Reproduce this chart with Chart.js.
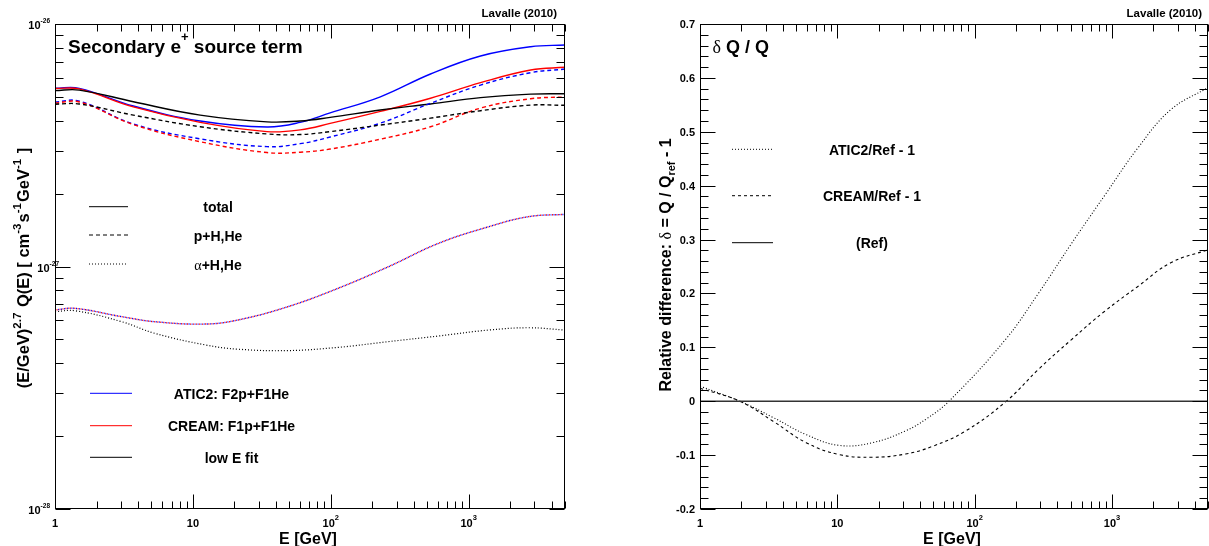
<!DOCTYPE html>
<html>
<head>
<meta charset="utf-8">
<script src="https://cdn.jsdelivr.net/npm/chart.js@4.4.1/dist/chart.umd.min.js"></script>
<style>
  html, body { margin: 0; padding: 0; background: #fff; }
  #wrap { position: relative; width: 1209px; height: 546px; overflow: hidden; }
  #wrap canvas { position: absolute; left: 0; top: 0; }
</style>
</head>
<body>
<div id="wrap">
  <canvas id="sourceTerm" width="1209" height="546"></canvas>
  <canvas id="relDiff" width="1209" height="546"></canvas>
</div>
<script>
// ---- Left panel: (E/GeV)^2.7 Q(E) in cm^-3 s^-1 GeV^-1 ----
const energyGeV = [1, 1.5, 3.7, 11.3, 34.5, 60, 99, 229, 529, 1220, 2818, 5000];
const aticTotal = [5.43e-27, 5.43e-27, 4.59e-27, 3.98e-27, 3.76e-27, 3.93e-27, 4.30e-27, 5.01e-27, 6.22e-27, 7.38e-27, 8.06e-27, 8.19e-27];
const creamTotal = [5.42e-27, 5.40e-27, 4.55e-27, 3.93e-27, 3.60e-27, 3.66e-27, 3.89e-27, 4.36e-27, 4.94e-27, 5.73e-27, 6.46e-27, 6.63e-27];
const lowETotal = [5.31e-27, 5.34e-27, 4.78e-27, 4.21e-27, 3.95e-27, 3.98e-27, 4.12e-27, 4.42e-27, 4.68e-27, 4.97e-27, 5.14e-27, 5.16e-27];
const aticProton = [4.77e-27, 4.81e-27, 3.87e-27, 3.36e-27, 3.12e-27, 3.21e-27, 3.42e-27, 3.90e-27, 4.71e-27, 5.60e-27, 6.30e-27, 6.52e-27];
const creamProton = [4.72e-27, 4.77e-27, 3.85e-27, 3.27e-27, 2.95e-27, 2.96e-27, 3.05e-27, 3.35e-27, 3.77e-27, 4.50e-27, 4.92e-27, 5.00e-27];
const lowEProton = [4.67e-27, 4.68e-27, 4.21e-27, 3.77e-27, 3.52e-27, 3.50e-27, 3.60e-27, 3.83e-27, 4.09e-27, 4.39e-27, 4.63e-27, 4.62e-27];

const alphaEnergyGeV = [1, 1.4, 3.05, 5.3, 12.3, 21.3, 49, 113, 262, 607, 1400, 2720, 5000];
// ATIC2 and CREAM alpha terms coincide
const fittedAlpha = [6.62e-28, 6.72e-28, 6.21e-28, 5.92e-28, 5.79e-28, 6.02e-28, 6.83e-28, 8.13e-28, 9.98e-28, 1.247e-27, 1.459e-27, 1.605e-27, 1.641e-27];
const lowEAlpha = [6.51e-28, 6.57e-28, 5.92e-28, 5.30e-28, 4.75e-28, 4.56e-28, 4.50e-28, 4.64e-28, 4.90e-28, 5.17e-28, 5.47e-28, 5.59e-28, 5.47e-28];

// ---- Right panel: relative difference ----
const aticRatioEnergy = [1, 1.95, 3.4, 5.93, 10.3, 18, 31.4, 45, 65, 167, 291, 505, 885, 1543, 2677, 5000];
const aticRatio = [0.028, 0, -0.030, -0.062, -0.082, -0.077, -0.055, -0.032, 0, 0.114, 0.200, 0.292, 0.382, 0.470, 0.541, 0.582];
const creamRatioEnergy = [1, 1.95, 3.4, 5.93, 10.3, 18, 31.4, 49, 85, 170, 291, 505, 885, 1543, 2677, 5000];
const creamRatio = [0.024, 0, -0.037, -0.077, -0.099, -0.104, -0.098, -0.084, -0.056, 0, 0.059, 0.114, 0.167, 0.213, 0.257, 0.281];
const refEnergy = [1, 5000];
const refRatio = [0, 0];

// ---- Axis ticks and labels ----
const energyTicks = [1, 10, 100, 1000];
const energyTickBase = ['1', '10', '10', '10'];
const energyTickExp = ['', '', '2', '3'];
const sourceTicks = [1e-28, 1e-27, 1e-26];
const sourceTickExp = ['-28', '-27', '-26'];
const deltaTicks = [-0.2, -0.1, 0, 0.1, 0.2, 0.3, 0.4, 0.5, 0.6, 0.7];
const deltaTickLabels = ['-0.2', '-0.1', '0', '0.1', '0.2', '0.3', '0.4', '0.5', '0.6', '0.7'];

const componentLabels = ['total', 'p+H,He', 'α+H,He'];
const modelLabels = ['ATIC2: F2p+F1He', 'CREAM: F1p+F1He', 'low E fit'];
const ratioLabels = ['ATIC2/Ref - 1', 'CREAM/Ref - 1', '(Ref)'];

const SANS = '"Liberation Sans", Arial, Helvetica, sans-serif';
const SERIF = '"Liberation Serif", "DejaVu Serif", serif';
const bold = s => 'bold ' + s + 'px ' + SANS;
const greek = s => s + 'px ' + SERIF;

const BLUE = '#0000ff';
const RED = '#ff0000';
const BLACK = '#000000';
const DASH = [4, 3];
const DOT = [1, 2];

function pts(xs, ys) {
    return xs.map((x, i) => ({ x: x, y: ys[i] }));
}

// split text into runs so greek letters get the symbol-like serif font
function toParts(text, size) {
    const parts = [];
    text.split(/([\u0370-\u03ff]+)/).forEach(t => {
        if (!t) return;
        const isGreek = /[\u0370-\u03ff]/.test(t);
        parts.push({ text: t, font: isGreek ? greek(size) : bold(size) });
    });
    return parts;
}

function drawRich(ctx, parts, x, y, align) {
    let w = 0;
    parts.forEach(p => { ctx.font = p.font; w += ctx.measureText(p.text).width + (p.gap || 0); });
    let cx = align === 'center' ? x - w / 2 : (align === 'right' ? x - w : x);
    ctx.textAlign = 'left';
    ctx.textBaseline = 'alphabetic';
    parts.forEach(p => {
        ctx.font = p.font;
        ctx.fillText(p.text, cx, y + (p.dy || 0));
        cx += ctx.measureText(p.text).width + (p.gap || 0);
    });
}

function seg(ctx, x1, y1, x2, y2) {
    ctx.beginPath();
    ctx.moveTo(x1, y1);
    ctx.lineTo(x2, y2);
    ctx.stroke();
}

function decadeMinors(from, to) {
    const out = [];
    for (let d = from; d < to; d *= 10) {
        for (let k = 2; k <= 9; k++) out.push(k * d);
    }
    return out;
}

/**
 * Draws the ROOT-style frame with inward ticks on all four sides.
 */
function drawFrame(chart, xMajor, xMinor, yMajor, yMinor) {
    const { ctx, chartArea: a, scales } = chart;
    const L = Math.round(a.left) + 0.5, R = Math.round(a.right) - 0.5;
    const T = Math.round(a.top) + 0.5, B = Math.round(a.bottom) - 0.5;
    ctx.save();
    ctx.strokeStyle = BLACK;
    ctx.lineWidth = 1;
    ctx.setLineDash([]);
    ctx.strokeRect(L, T, R - L, B - T);
    const tickX = (vals, len) => vals.forEach(v => {
        if (v < scales.x.min || v > scales.x.max) return;
        const px = Math.round(scales.x.getPixelForValue(v)) + 0.5;
        seg(ctx, px, B, px, B - len);
        seg(ctx, px, T, px, T + len);
    });
    const tickY = (vals, len) => vals.forEach(v => {
        if (v < scales.y.min || v > scales.y.max) return;
        const py = Math.round(scales.y.getPixelForValue(v)) + 0.5;
        seg(ctx, L, py, L + len, py);
        seg(ctx, R, py, R - len, py);
    });
    tickX(xMajor, 14);
    tickX(xMinor, 7);
    tickY(yMajor, 15);
    tickY(yMinor, 8);

    // energy tick labels
    ctx.fillStyle = BLACK;
    energyTicks.forEach((v, i) => {
        const px = scales.x.getPixelForValue(v);
        const parts = [{ text: energyTickBase[i], font: bold(11) }];
        if (energyTickExp[i]) parts.push({ text: energyTickExp[i], font: bold(7.5), dy: -7.4 });
        drawRich(ctx, parts, px, a.bottom + 18, 'center');
    });
    drawRich(ctx, [{ text: 'E [GeV]', font: bold(16) }], (a.left + a.right) / 2 - 2, 543.5, 'center');
    ctx.restore();
}

function drawLegendRow(ctx, x1, x2, y, color, dash, label, textX) {
    ctx.save();
    ctx.strokeStyle = color;
    ctx.lineWidth = 1;
    ctx.setLineDash(dash);
    seg(ctx, x1, y, x2, y);
    ctx.restore();
    ctx.fillStyle = BLACK;
    drawRich(ctx, toParts(label, 14), textX, y + 5.5, 'center');
}

const sourceDecor = {
    id: 'sourceDecor',
    afterDatasetsDraw(chart) {
        const { ctx, scales } = chart;
        drawFrame(chart, energyTicks, decadeMinors(1, 5000), sourceTicks, decadeMinors(1e-28, 1e-26));
        ctx.save();
        ctx.fillStyle = BLACK;
        // the 10^-27 label sits a little further right in the original
        const labelShift = [0, 9, 0];
        sourceTicks.forEach((v, i) => {
            const py = scales.y.getPixelForValue(v);
            drawRich(ctx, [
                { text: '10', font: bold(11) },
                { text: sourceTickExp[i], font: bold(6.5), dy: -5.7 }
            ], 50 + labelShift[i], py + 5, 'right');
        });
        // y title
        ctx.save();
        ctx.translate(28.5, 268);
        ctx.rotate(-Math.PI / 2);
        const sup = t => ({ text: t, font: bold(11.5), dy: -8, gap: 1 });
        drawRich(ctx, [
            { text: '(E/GeV)', font: bold(16.5) }, sup('2.7'),
            { text: ' Q(E) [ cm', font: bold(16.5) }, sup('-3'),
            { text: 's', font: bold(16.5) }, sup('-1'),
            { text: 'GeV', font: bold(16.5) }, sup('-1'),
            { text: ' ]', font: bold(16.5) }
        ], 0, 0, 'center');
        ctx.restore();

        drawRich(ctx, [
            { text: 'Secondary e', font: bold(19) },
            { text: '+', font: bold(13), dy: -12 },
            { text: ' source term', font: bold(19) }
        ], 68, 53.3, 'left');
        drawRich(ctx, [{ text: 'Lavalle (2010)', font: bold(11.5) }], 557, 16.5, 'right');

        const compStyles = [[], DASH, DOT];
        componentLabels.forEach((lab, i) => {
            drawLegendRow(ctx, 89, 128, [206.7, 235, 264][i], BLACK, compStyles[i], lab, 218);
        });
        const modelColors = [BLUE, RED, BLACK];
        modelLabels.forEach((lab, i) => {
            drawLegendRow(ctx, 90, 132, [393.3, 425.7, 457.3][i], modelColors[i], [], lab, 231.5);
        });
        ctx.restore();
    }
};

const ratioDecor = {
    id: 'ratioDecor',
    afterDatasetsDraw(chart) {
        const { ctx, scales } = chart;
        const yMinor = [];
        for (let k = -10; k <= 35; k++) {
            if (k % 5 !== 0) yMinor.push(k * 0.02);
        }
        drawFrame(chart, energyTicks, decadeMinors(1, 5000), deltaTicks, yMinor);
        ctx.save();
        ctx.fillStyle = BLACK;
        deltaTicks.forEach((v, i) => {
            const py = scales.y.getPixelForValue(v);
            drawRich(ctx, [{ text: deltaTickLabels[i], font: bold(11) }], 695, py + 4, 'right');
        });
        ctx.save();
        ctx.translate(671, 265);
        ctx.rotate(-Math.PI / 2);
        drawRich(ctx, [
            { text: 'Relative difference: ', font: bold(16) },
            { text: 'δ', font: greek(16) },
            { text: ' = Q / Q', font: bold(16) },
            { text: 'ref', font: bold(11), dy: 4 },
            { text: ' - 1', font: bold(16) }
        ], 0, 0, 'center');
        ctx.restore();

        drawRich(ctx, [
            { text: 'δ', font: greek(18) },
            { text: ' Q / Q', font: bold(18) }
        ], 712.5, 53, 'left');
        drawRich(ctx, [{ text: 'Lavalle (2010)', font: bold(11.5) }], 1202, 16.5, 'right');

        const ratioStyles = [DOT, [3, 3], []];
        ratioLabels.forEach((lab, i) => {
            drawLegendRow(ctx, 732, 773, [149.3, 195.7, 242.7][i], BLACK, ratioStyles[i], lab, 872);
        });
        ctx.restore();
    }
};

function curve(label, data, color, dash, width, offset) {
    return {
        label: label,
        data: data,
        borderColor: color,
        borderWidth: width,
        borderDash: dash,
        borderDashOffset: offset || 0,
        pointRadius: 0,
        fill: false,
        tension: 0.4
    };
}

function baseOptions(padding, yScale) {
    return {
        responsive: false,
        animation: false,
        events: [],
        layout: { padding: padding },
        plugins: { legend: { display: false }, tooltip: { enabled: false } },
        scales: {
            x: { type: 'logarithmic', min: 1, max: 5000, display: false },
            y: yScale
        }
    };
}

new Chart(document.getElementById('sourceTerm').getContext('2d'), {
    type: 'line',
    data: {
        datasets: [
            curve('low E alpha', pts(alphaEnergyGeV, lowEAlpha), BLACK, DOT, 1.2),
            curve('ATIC2 alpha', pts(alphaEnergyGeV, fittedAlpha), BLUE, DOT, 1.4),
            curve('CREAM alpha', pts(alphaEnergyGeV, fittedAlpha), RED, DOT, 1.4, 1.5),
            curve('low E p', pts(energyGeV, lowEProton), BLACK, DASH, 1.4),
            curve('CREAM p', pts(energyGeV, creamProton), RED, DASH, 1.4),
            curve('ATIC2 p', pts(energyGeV, aticProton), BLUE, DASH, 1.4),
            curve('low E total', pts(energyGeV, lowETotal), BLACK, [], 1.4),
            curve('CREAM total', pts(energyGeV, creamTotal), RED, [], 1.4),
            curve('ATIC2 total', pts(energyGeV, aticTotal), BLUE, [], 1.4)
        ]
    },
    options: baseOptions({ left: 55, top: 24, right: 1209 - 565, bottom: 546 - 509 },
        { type: 'logarithmic', min: 1e-28, max: 1e-26, display: false }),
    plugins: [sourceDecor]
});

new Chart(document.getElementById('relDiff').getContext('2d'), {
    type: 'line',
    data: {
        datasets: [
            curve('(Ref)', pts(refEnergy, refRatio), '#333333', [], 1.5),
            curve('CREAM/Ref - 1', pts(creamRatioEnergy, creamRatio), BLACK, [3, 3], 1.1),
            curve('ATIC2/Ref - 1', pts(aticRatioEnergy, aticRatio), BLACK, DOT, 1.1)
        ]
    },
    options: baseOptions({ left: 700, top: 24, right: 1, bottom: 546 - 509 },
        { type: 'linear', min: -0.2, max: 0.7, display: false }),
    plugins: [ratioDecor]
});
</script>
</body>
</html>
